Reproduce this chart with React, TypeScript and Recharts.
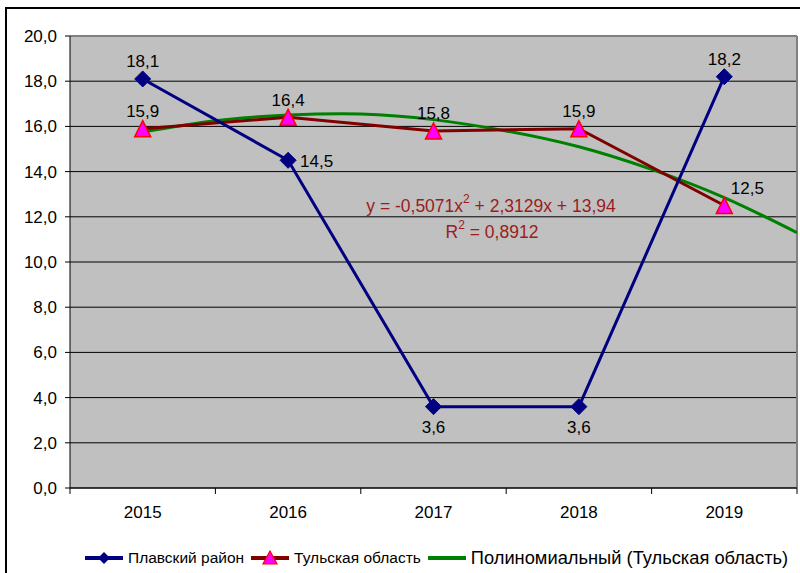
import React from 'react';
import { LineChart, Line, XAxis, YAxis, CartesianGrid, Legend, ReferenceLine } from 'recharts';

const years = ['2015', '2016', '2017', '2018', '2019'];
const plavsky = [18.1, 14.5, 3.6, 3.6, 18.2];
const tula = [15.9, 16.4, 15.8, 15.9, 12.5];
// trend curve at half-category steps
const trendX = [1, 1.5, 2, 2.5, 3, 3.5, 4, 4.5, 5, 5.5];
const trendY = [15.75, 16.25, 16.5, 16.55, 16.3, 15.8, 15.1, 14.1, 12.85, 11.3];
const yTicks = [0, 2, 4, 6, 8, 10, 12, 14, 16, 18, 20];
const xTicks = [0.5, 1, 1.5, 2, 2.5, 3, 3.5, 4, 4.5, 5, 5.5];

const plavskyData = plavsky.map((v, i) => ({ x: i + 1, v }));
const tulaData = tula.map((v, i) => ({ x: i + 1, v }));
const trendData = trendX.map((x, i) => ({ x, v: trendY[i] }));

const plavskyPlace = ['top', 'right', 'bottom', 'bottom', 'top'];
const tulaPlace = ['top', 'top', 'top', 'top', 'topright'];

const FONT = '"Liberation Sans", Arial, sans-serif';
const fmt = (v: number) => v.toFixed(1).replace('.', ',');

const NAVY = '#000080';
const MAROON = '#800000';
const GREEN = '#008000';
const EQ = '#9B1C1C';

const Diamond = (props: any) => {
  const { cx, cy } = props;
  if (cx == null || cy == null) return null;
  const r = 8;
  return <polygon points={`${cx},${cy - r} ${cx + r},${cy} ${cx},${cy + r} ${cx - r},${cy}`} fill={NAVY} stroke={NAVY} strokeWidth={1} />;
};

const Tri = (props: any) => {
  const { cx, cy } = props;
  if (cx == null || cy == null) return null;
  return <polygon points={`${cx},${cy - 8} ${cx + 8},${cy + 8} ${cx - 8},${cy + 8}`} fill="#FF00FF" stroke="#FF0000" strokeWidth={1.5} />;
};

const makeLabel = (places: string[]) => (props: any) => {
  const { x, y, value, index } = props;
  const p = places[index];
  let tx = x, ty = y - 17, anchor: any = 'middle';
  if (p === 'right') { tx = x + 12; ty = y + 1; anchor = 'start'; }
  if (p === 'bottom') { ty = y + 21; }
  if (p === 'topright') { tx = x + 23; ty = y - 17; }
  return (
    <text x={tx} y={ty} textAnchor={anchor} dominantBaseline="central" fontFamily={FONT} fontSize={17} fill="#000">
      {fmt(value)}
    </text>
  );
};

const XTick = (props: any) => {
  const { x, y, payload } = props;
  const v = payload.value;
  if (Number.isInteger(v)) {
    return (
      <text x={x} y={y + 24} textAnchor="middle" dominantBaseline="central" fontFamily={FONT} fontSize={17} fill="#000">
        {years[v - 1]}
      </text>
    );
  }
  return <line x1={x} y1={y} x2={x} y2={y + 6} stroke="#000" strokeWidth={1} />;
};

const LegendIcon = ({ color, marker }: { color: string; marker?: 'diamond' | 'tri' }) => (
  <svg width={40} height={16} style={{ display: 'block' }}>
    <line x1={1} y1={8} x2={39} y2={8} stroke={color} strokeWidth={4} />
    {marker === 'diamond' && <polygon points="20,2 26,8 20,14 14,8" fill={NAVY} />}
    {marker === 'tri' && <polygon points="20,1 27,14 13,14" fill="#FF00FF" stroke="#FF0000" strokeWidth={1.2} />}
  </svg>
);

const LegendContent = () => (
  <div style={{ display: 'flex', alignItems: 'center', height: 20, paddingLeft: 84, fontFamily: FONT, color: '#000', whiteSpace: 'nowrap' }}>
    <LegendIcon color={NAVY} marker="diamond" />
    <span style={{ fontSize: 15.5, marginLeft: 4, marginRight: 6 }}>Плавский район</span>
    <LegendIcon color={MAROON} marker="tri" />
    <span style={{ fontSize: 15.5, marginLeft: 4, marginRight: 6 }}>Тульская область</span>
    <LegendIcon color={GREEN} />
    <span style={{ fontSize: 18.3, marginLeft: 4 }}>Полиномиальный (Тульская область)</span>
  </div>
);

export default function App() {
  return (
    <div style={{ position: 'absolute', left: 0, top: 0, width: 800, height: 573, overflow: 'hidden', background: '#fff' }}>
      <div style={{ position: 'absolute', left: 5, top: 7, width: 900, height: 700, borderLeft: '2px solid #000', borderTop: '2px solid #000' }} />
      <LineChart width={800} height={573} margin={{ top: 36, right: 3, left: 0, bottom: 5 }}>
        <CartesianGrid vertical={false} horizontal fill="#C0C0C0" stroke="#000" strokeOpacity={1} />
        <XAxis
          type="number"
          dataKey="x"
          domain={[0.5, 5.5]}
          ticks={xTicks}
          interval={0}
          allowDataOverflow
          height={60}
          tickSize={0}
          tickMargin={0}
          tickLine={false}
          axisLine={{ stroke: '#000', strokeWidth: 1 }}
          tick={<XTick />}
        />
        <YAxis
          type="number"
          domain={[0, 20]}
          ticks={yTicks}
          interval={0}
          width={70}
          tickSize={5}
          tickMargin={8}
          tickFormatter={fmt}
          tickLine={{ stroke: '#000' }}
          axisLine={{ stroke: '#000' }}
          tick={{ fontFamily: FONT, fontSize: 17, fill: '#000' }}
        />
        <ReferenceLine y={20} stroke="#808080" strokeWidth={2} />
        <ReferenceLine x={5.5} stroke="#808080" strokeWidth={2} />
        <Legend verticalAlign="bottom" content={<LegendContent />} wrapperStyle={{ left: 0, width: 800, height: 20 }} />
        <Line
          data={trendData}
          dataKey="v"
          type="natural"
          stroke={GREEN}
          strokeWidth={3}
          dot={false}
          activeDot={false}
          isAnimationActive={false}
          name="Полиномиальный (Тульская область)"
        />
        <Line
          data={tulaData}
          dataKey="v"
          type="linear"
          stroke={MAROON}
          strokeWidth={3}
          dot={<Tri />}
          activeDot={false}
          isAnimationActive={false}
          label={makeLabel(tulaPlace)}
          name="Тульская область"
        />
        <Line
          data={plavskyData}
          dataKey="v"
          type="linear"
          stroke={NAVY}
          strokeWidth={3}
          dot={<Diamond />}
          activeDot={false}
          isAnimationActive={false}
          label={makeLabel(plavskyPlace)}
          name="Плавский район"
        />
        <text x={491} y={206} textAnchor="middle" dominantBaseline="central" fontFamily={FONT} fontSize={17.5} fill={EQ}>
          y = -0,5071x<tspan dy={-7} fontSize={12}>2</tspan><tspan dy={7}> + 2,3129x + 13,94</tspan>
        </text>
        <text x={492} y={232} textAnchor="middle" dominantBaseline="central" fontFamily={FONT} fontSize={17.5} fill={EQ}>
          R<tspan dy={-7} fontSize={12}>2</tspan><tspan dy={7}> = 0,8912</tspan>
        </text>
      </LineChart>
    </div>
  );
}
